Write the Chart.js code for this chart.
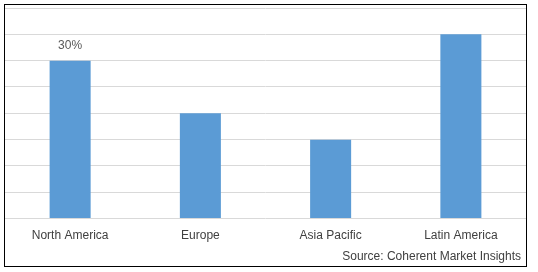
<!DOCTYPE html>
<html lang="en">
<head>
    <meta charset="UTF-8">
    <title>Regional share</title>
    <style>
        body { margin: 0; background: #fff; }
        canvas { display: block; }
    </style>
</head>
<body>
    <canvas id="myChart" width="538" height="272"></canvas>
    <script src="https://cdn.jsdelivr.net/npm/chart.js@4.4.0/dist/chart.umd.min.js"></script>
    <script>
        var regions = ["North America", "Europe", "Asia Pacific", "Latin America"];
        var shares = [30, 20, 15, 35];
        var shownLabels = ["30%", "", "", ""];
        var sourceText = "Source: Coherent Market Insights";

        // frame, value label and source line
        var extras = {
            id: 'extras',
            afterDatasetsDraw(chart) {
                var ctx = chart.ctx;
                var meta = chart.getDatasetMeta(0);
                ctx.save();
                ctx.font = '12px "Liberation Sans", Arial, sans-serif';
                ctx.fillStyle = '#595959';
                ctx.textAlign = 'center';
                ctx.textBaseline = 'bottom';
                meta.data.forEach(function (bar, i) {
                    if (shownLabels[i]) ctx.fillText(shownLabels[i], bar.x, bar.y - 9);
                });
                ctx.restore();
            },
            afterDraw(chart) {
                var ctx = chart.ctx;
                ctx.save();
                ctx.fillStyle = '#404040';
                ctx.font = '12px "Liberation Sans", Arial, sans-serif';
                ctx.textAlign = 'right';
                ctx.textBaseline = 'middle';
                ctx.fillText(sourceText, 521, 257);
                ctx.strokeStyle = '#000';
                ctx.lineWidth = 1;
                ctx.strokeRect(4.5, 4.5, 522, 262);
                ctx.restore();
            }
        };

        var chart = new Chart(document.getElementById("myChart").getContext('2d'), {
            type: 'bar',
            data: {
                labels: regions,
                datasets: [{
                    data: shares,
                    backgroundColor: '#5b9bd5',
                    barPercentage: 0.63,
                    categoryPercentage: 0.5
                }]
            },
            options: {
                responsive: false,
                animation: false,
                layout: { padding: { top: 8, left: 5, right: 12, bottom: 27 } },
                plugins: {
                    legend: { display: false },
                    tooltip: { enabled: false }
                },
                scales: {
                    x: {
                        grid: { display: false },
                        border: { display: false },
                        ticks: {
                            color: '#404040',
                            font: { family: '"Liberation Sans", Arial, sans-serif', size: 12 },
                            padding: 2
                        }
                    },
                    y: {
                        min: 0,
                        max: 40,
                        ticks: { display: false, stepSize: 5 },
                        grid: { color: '#d9d9d9', drawTicks: false },
                        border: { display: false }
                    }
                }
            },
            plugins: [extras]
        });
    </script>
</body>
</html>
